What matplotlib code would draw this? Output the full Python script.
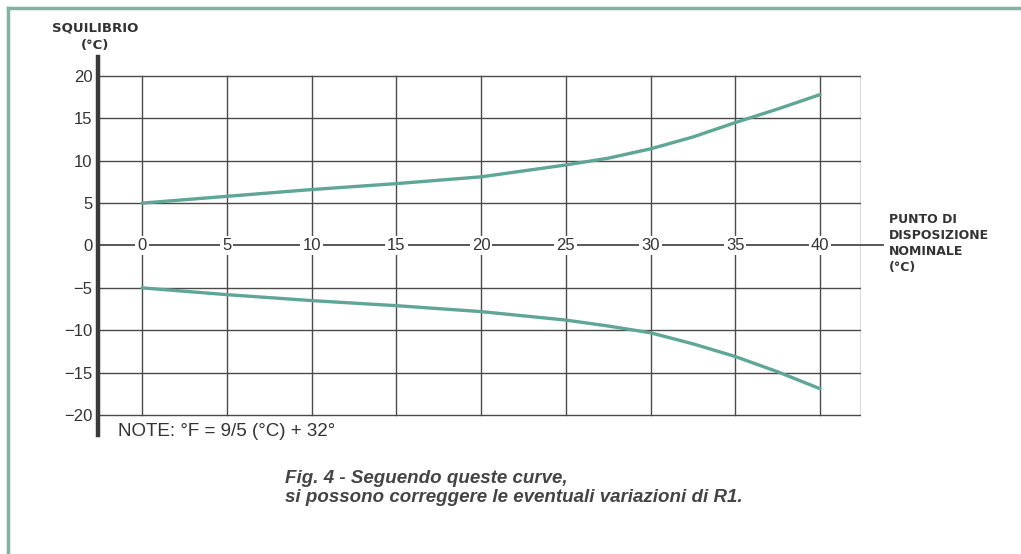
import matplotlib.pyplot as plt
from matplotlib.lines import Line2D

# temperature at set point (°C) and imbalance
temp = [0, 5, 10, 15, 20, 25, 27.5, 30, 32.5, 35, 37.5, 40]
upper = [5.0, 5.8, 6.6, 7.3, 8.1, 9.5, 10.3, 11.4, 12.8, 14.5, 16.1, 17.8]
lower = [-5.0, -5.8, -6.5, -7.1, -7.8, -8.8, -9.5, -10.3, -11.6, -13.1, -14.9, -16.9]

xticks = [0, 5, 10, 15, 20, 25, 30, 35, 40]
yticks = [20, 15, 10, 5, 0, -5, -10, -15, -20]

grid_col = "#4a4a4a"
curve_col = "#5fa696"
text_col = "#333333"

fig = plt.figure(figsize=(10.21, 5.54), dpi=100)
ax = fig.add_axes([98 / 1021, 1 - 435 / 554, (861 - 98) / 1021, (435 - 57) / 554])

x_left, x_right = -2.6, 42.42
ax.set_xlim(x_left, x_right)
ax.set_ylim(-22.36, 22.24)

for s in ["top", "right", "bottom"]:
    ax.spines[s].set_visible(False)
ax.spines["left"].set_linewidth(3.2)
ax.spines["left"].set_color("#3a3a3a")

# grid
for y in yticks:
    if y != 0:
        ax.plot([x_left, x_right], [y, y], color=grid_col, lw=1.0, zorder=1)
for x in xticks + [x_right]:
    ax.plot([x, x], [-20, 20], color=grid_col, lw=1.0, zorder=1)

# zero line carrying the x labels
ax.plot([x_left, 43.7], [0, 0], color=grid_col, lw=1.3, zorder=2, clip_on=False)
for x in xticks:
    ax.text(x, 0, str(x), ha="center", va="center", fontsize=12, color=text_col,
            family="Liberation Sans", zorder=3,
            bbox=dict(facecolor="white", edgecolor="none", pad=1.5))

ax.set_xticks([])
ax.set_yticks(yticks)
ax.set_yticklabels([str(v).replace("-", "\u2212") for v in yticks],
                   fontsize=12, color=text_col, family="Liberation Sans")
ax.tick_params(axis="y", length=0, pad=4)

# curves
ax.plot(temp, upper, color=curve_col, lw=2.4, zorder=4, solid_capstyle="round")
ax.plot(temp, lower, color=curve_col, lw=2.4, zorder=4, solid_capstyle="round")

# labels
fig.text(95 / 1021, 1 - 28 / 554, "SQUILIBRIO", ha="center", va="center",
         fontsize=9.5, fontweight="bold", color=text_col)
fig.text(95 / 1021, 1 - 45 / 554, "(°C)", ha="center", va="center",
         fontsize=9.5, fontweight="bold", color=text_col)

fig.text(889 / 1021, 1 - 213 / 554, "PUNTO DI\nDISPOSIZIONE\nNOMINALE\n(°C)",
         ha="left", va="top", fontsize=9, fontweight="bold", color=text_col,
         linespacing=1.3)

fig.text(118 / 1021, 1 - 431 / 554, "NOTE: °F = 9/5 (°C) + 32°", ha="left",
         va="center", fontsize=13.5, color=text_col, family="Liberation Sans")

fig.text(285 / 1021, 1 - 470 / 554,
         "Fig. 4 - Seguendo queste curve,\nsi possono correggere le eventuali variazioni di R1.",
         ha="left", va="top", fontsize=13.5, style="italic", fontweight="bold",
         color="#444444", family="Liberation Sans", linespacing=1.15)

# frame
fig.add_artist(Line2D([8 / 1021, 8 / 1021], [0, 1 - 8 / 554], color="#86b0a2", lw=2.5,
                      transform=fig.transFigure))
fig.add_artist(Line2D([8 / 1021, 1], [1 - 8 / 554, 1 - 8 / 554], color="#86b0a2", lw=2.5,
                      transform=fig.transFigure))

fig.savefig("out.png", dpi=100)
